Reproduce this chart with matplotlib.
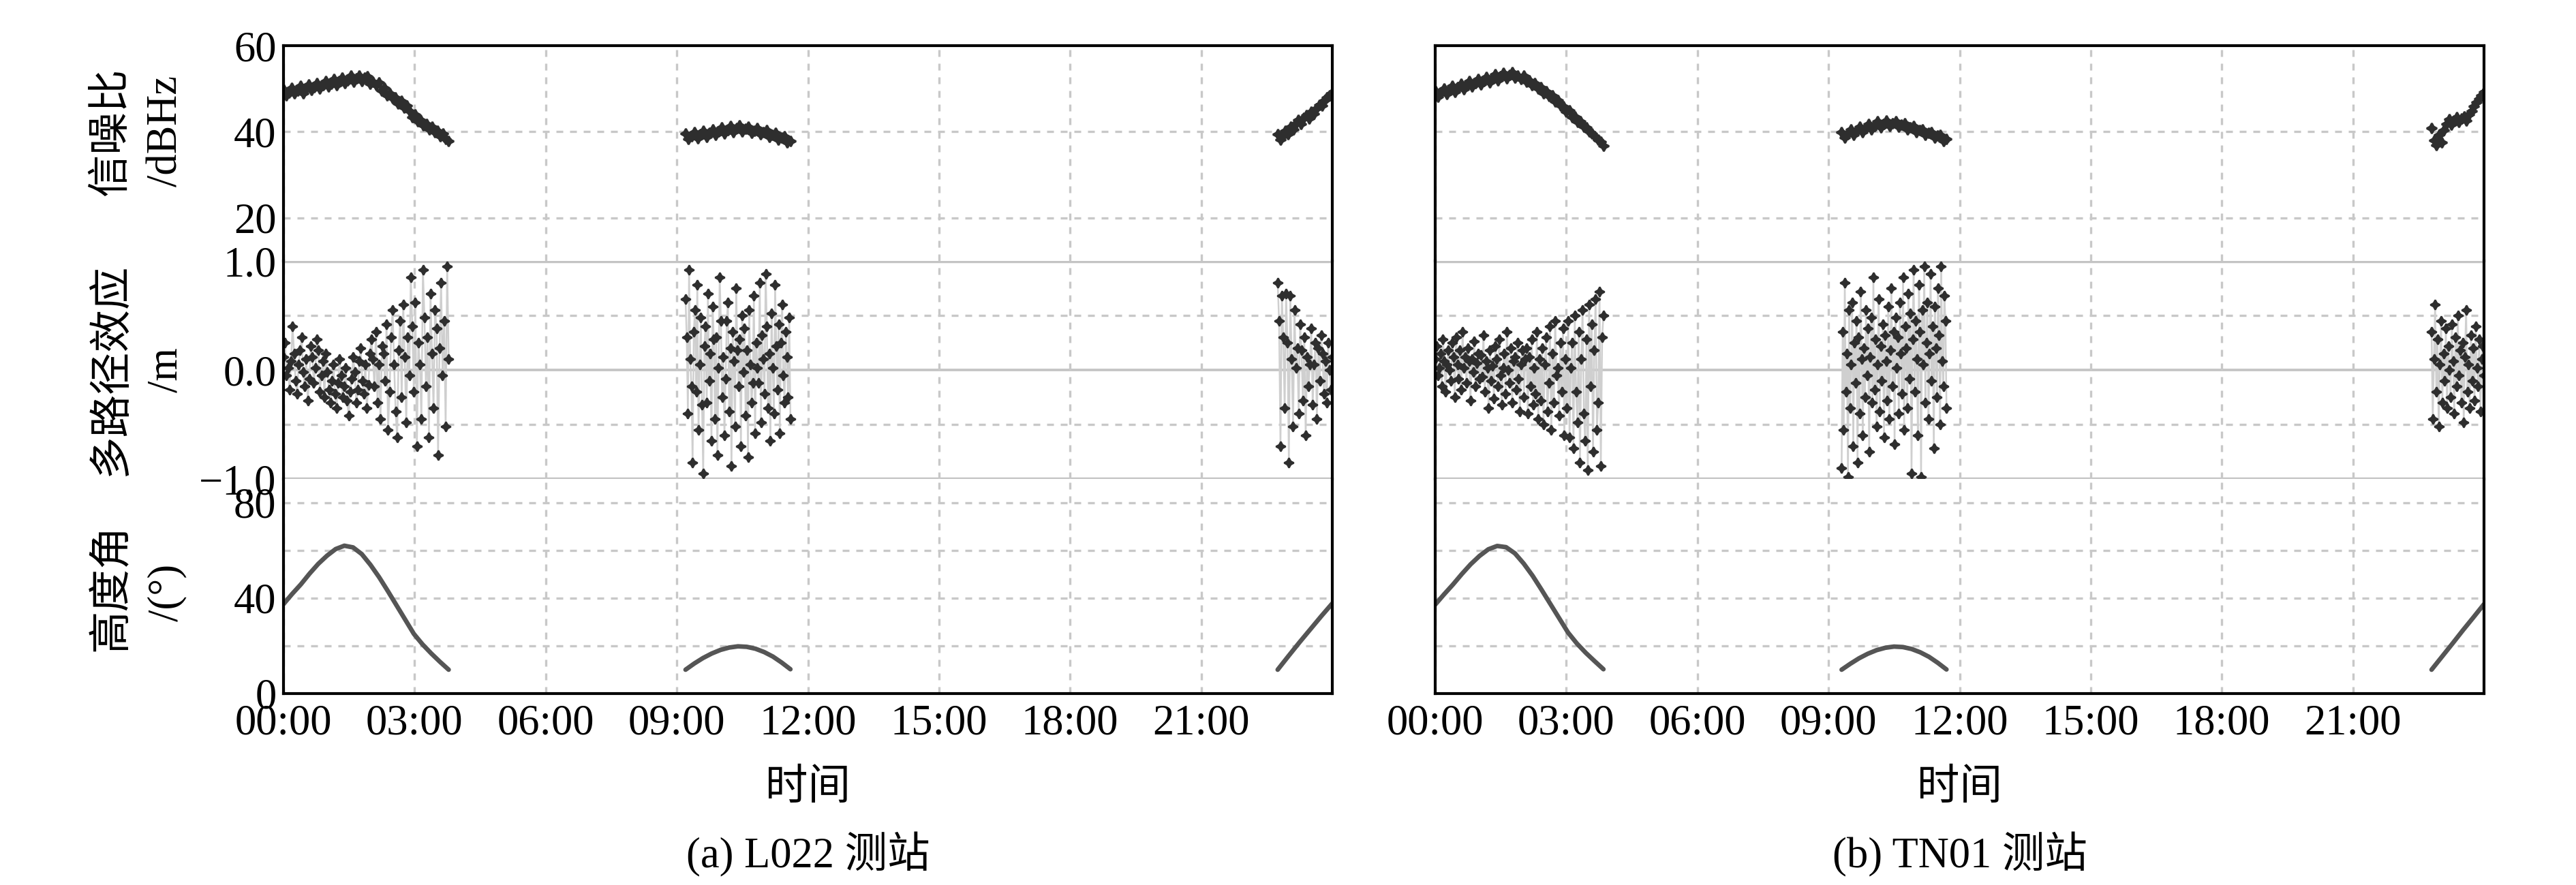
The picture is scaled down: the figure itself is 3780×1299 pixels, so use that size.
import matplotlib
matplotlib.use('Agg')
import matplotlib.pyplot as plt
import numpy as np

plt.rcParams['font.family'] = ['Liberation Serif', 'Noto Sans CJK SC']
plt.rcParams['axes.unicode_minus'] = True

# ---------------- data ----------------
hour_ticks = [0, 3, 6, 9, 12, 15, 18, 21]
hour_labels = ['00:00', '03:00', '06:00', '09:00', '12:00', '15:00', '18:00', '21:00']

snr_ticks = [20, 40, 60]
snr_ticklabels = ['20', '40', '60']
mp_ticks = [-1.0, 0.0, 1.0]
mp_ticklabels = ['\u22121.0', '0.0', '1.0']
elev_ticks = [0, 40, 80]
elev_ticklabels = ['0', '40', '80']

snr_grid = [20, 40]
mp_grid = [-0.5, 0.5]
mp_solid = [-1.0, 0.0, 1.0]
elev_grid = [20, 40, 60, 80]

# visibility windows (h) per station: (start, end)
l022_windows = [(0.0, 3.78), (9.2, 11.6), (22.75, 24.0)]
tn01_windows = [(0.0, 3.85), (9.3, 11.7), (22.8, 24.0)]

# L022 signal-to-noise ratio (dBHz)
l022_snr_1 = [49.8, 48.4, 49.1, 50.2, 48.9, 49.6, 50.6, 49.0, 50.1, 51.0, 49.7, 50.4, 51.3, 50.0, 50.9,
              51.8, 50.5, 51.2, 52.3, 50.9, 51.7, 52.6, 51.3, 52.0, 53.0, 51.6, 52.4, 53.1, 51.8, 52.5,
              52.9, 51.2, 51.6, 50.8, 51.4, 49.6, 50.2, 48.5, 48.9, 47.8, 48.0, 46.6, 47.2, 45.6, 46.0,
              44.8, 43.4, 44.0, 42.4, 42.8, 41.5, 41.8, 40.6, 41.1, 39.9, 40.3, 39.0, 39.6, 38.4, 37.8]
l022_snr_2 = [39.6, 38.3, 38.9, 39.9, 38.5, 39.4, 40.2, 38.8, 39.7, 40.5, 39.2, 40.0,
              41.0, 39.6, 40.4, 41.3, 39.9, 40.8, 41.5, 40.1, 40.7, 41.2, 39.8, 40.3,
              40.9, 39.4, 39.9, 40.4, 38.8, 39.3, 39.7, 38.2, 38.6, 38.9, 37.5, 37.9]
l022_snr_3 = [39.4, 38.2, 39.0, 40.3, 39.5, 41.1, 40.6, 41.9, 42.7, 41.8, 43.2,
              43.9, 43.1, 44.6, 44.2, 45.5, 46.2, 46.0, 47.3, 47.9, 48.5, 49.1]

# L022 multipath (m)
l022_mp_1 = [0.12, 0.25, -0.05, 0.02, -0.18, 0.08, 0.40, 0.15, -0.10, -0.22, 0.05, 0.18, 0.30, -0.02, -0.15,
             0.10, -0.28, -0.08, 0.22, 0.12, -0.12, 0.02, 0.28, 0.18, -0.20, -0.05, 0.08, -0.25, 0.15,
             -0.02, -0.18, -0.30, -0.10, 0.05, -0.22, -0.35, -0.12, 0.10, -0.05, -0.25, -0.15, 0.02, -0.28,
             -0.42, -0.20, -0.08, 0.12, -0.02, -0.30, -0.18, 0.08, 0.20, -0.10, -0.22, 0.05, -0.35, -0.14, 0.15,
             0.28, 0.10, -0.15, 0.35, -0.30, 0.05, -0.45, 0.22, 0.15, -0.10, 0.42, -0.55, -0.20, 0.30,
             0.55, 0.05, -0.38, -0.62, 0.18, 0.45, -0.25, 0.60, 0.12, -0.48, 0.30, -0.05,
             0.85, 0.40, -0.20, 0.62, -0.70, 0.25, 0.05, -0.45, 0.92, 0.48, -0.15, 0.30, -0.62, 0.70,
             0.15, -0.35, 0.55, 0.38, -0.78, 0.20, 0.80, -0.05, 0.45, -0.52, 0.95, 0.10]
l022_mp_2 = [0.65, 0.30, -0.40, 0.92, 0.10, -0.15, -0.85, 0.35, 0.55, -0.20,
             0.78, -0.55, 0.05, 0.48, -0.32, -0.95, 0.22, 0.40, -0.30, 0.70,
             -0.10, 0.15, -0.65, 0.58, 0.28, -0.45, 0.30, -0.78, 0.02, 0.85,
             0.45, -0.25, 0.12, -0.60, -0.08, 0.45, 0.62, -0.38, 0.20, -0.88,
             0.35, 0.08, -0.52, 0.75, 0.18, -0.15, 0.28, -0.70, 0.50, -0.02,
             0.38, -0.42, 0.18, -0.80, 0.55, 0.05, -0.30, -0.12, 0.68, -0.58,
             0.25, 0.02, -0.12, 0.80, -0.48, 0.32, 0.10, -0.22, 0.88, 0.40,
             -0.35, 0.15, -0.65, 0.52, 0.02, -0.40, 0.78, 0.22, -0.18, 0.42,
             -0.58, 0.25, 0.60, -0.05, -0.30, 0.35, 0.12, -0.25, 0.48, -0.45]
l022_mp_3 = [0.80, 0.45, -0.70, 0.68, 0.30, -0.35, 0.70, 0.25, -0.85, 0.68,
             0.10, -0.52, 0.55, 0.02, 0.20, -0.40, 0.42, 0.18, -0.28, 0.30,
             -0.60, 0.12, -0.15, 0.05, 0.38, -0.32, 0.05, 0.25, -0.45, 0.20,
             -0.10, 0.32, 0.15, -0.22, 0.08, -0.30, 0.25, 0.00, -0.18, 0.12]

# L022 elevation (deg)
l022_elev_1 = [37.5, 41.8, 45.8, 50.3, 54.4, 57.8, 60.6, 62.0, 61.3, 58.5,
               54.0, 48.8, 43.0, 37.0, 31.0, 25.0, 20.6, 16.8, 13.3, 10.0]
l022_elev_2 = [10.0, 12.6, 14.9, 16.8, 18.3, 19.3, 19.8, 19.6, 18.8, 17.4,
               15.5, 13.0, 10.2]
l022_elev_3 = [10.0, 15.8, 21.5, 27.0, 32.5, 37.8]

# TN01 signal-to-noise ratio (dBHz)
tn01_snr_1 = [49.5, 48.2, 49.0, 50.1, 48.8, 49.7, 50.6, 49.3, 50.4, 51.2, 49.9, 50.8, 51.7, 50.5, 51.3,
              52.3, 51.0, 51.8, 52.8, 51.5, 52.4, 53.4, 52.0, 52.9, 53.7, 52.4, 53.2, 53.9, 52.6, 53.0,
              52.2, 53.0, 51.6, 52.0, 50.9, 51.3, 50.0, 50.4, 49.0, 49.4, 48.3, 48.4, 47.1, 47.4, 46.0,
              45.9, 44.6, 44.9, 43.4, 43.6, 42.3, 42.5, 41.2, 41.0, 40.0, 39.6, 38.9, 38.2, 37.7, 36.8]
tn01_snr_2 = [39.9, 38.7, 39.5, 40.6, 39.3, 40.2, 41.2, 39.9, 40.8, 41.8, 40.6, 41.4, 42.4, 41.0, 41.8,
              42.6, 41.3, 42.0, 42.5, 41.1, 41.6, 41.9, 40.6, 41.0, 41.3, 39.9, 40.4, 40.6, 39.3, 39.8,
              39.9, 38.6, 39.1, 39.2, 37.9, 38.3]
tn01_snr_3 = [40.8, 38.0, 36.9, 39.2, 37.6, 40.4, 41.8, 42.9, 41.7, 42.6, 43.4,
              42.2, 43.0, 43.5, 42.6, 44.0, 44.8, 45.9, 46.8, 47.7, 48.5, 49.3]

# TN01 multipath (m)
tn01_mp_1 = [0.10, 0.22, -0.05, 0.02, 0.15, -0.15, 0.28, 0.08, -0.20, 0.05, 0.18, 0.00, -0.10, 0.25, 0.12,
             -0.25, 0.30, 0.05, -0.08, 0.18, -0.18, 0.35, 0.02, 0.12, -0.12, 0.20, 0.08, -0.28, 0.10, -0.02,
             0.26, -0.15, 0.06, 0.15, -0.08,
             0.14, -0.06, 0.32, -0.20, 0.08, 0.02, -0.35, 0.18, -0.10, 0.04, -0.26, 0.22, 0.10, -0.15, 0.28,
             -0.05, -0.32, 0.02, 0.15, -0.22, 0.35, 0.00, -0.12, 0.20, -0.30, 0.08, 0.12, -0.18, 0.25, -0.08,
             -0.38, 0.05, 0.18, -0.25, 0.10,
             0.20, -0.40, 0.12, -0.15, 0.28, -0.32, 0.02, -0.22, 0.35, -0.45, 0.10, -0.28, 0.20, -0.50,
             0.05, 0.30, -0.38, -0.12, 0.40, -0.55, 0.15, -0.30, 0.45, -0.05, 0.02, -0.42, 0.25, -0.20,
             0.38, -0.60, 0.10, -0.35,
             0.45, -0.62, 0.02, 0.25, -0.72, 0.50, -0.20, -0.48, 0.35, -0.85, 0.10, 0.55, -0.40, -0.65,
             0.28, -0.92, 0.60, -0.15, 0.42, -0.75, 0.18, 0.65, -0.55, -0.30, 0.72, -0.88, 0.30, 0.50]
tn01_mp_2 = [-0.90, 0.35, -0.55, 0.80, -0.20, 0.15, -0.98, 0.55, -0.35, 0.05,
             0.62, -0.70, 0.25, -0.12, 0.45, -0.85, 0.30, -0.40, 0.72, 0.10,
             -0.60, 0.20, -0.25, 0.55, -0.05, 0.38, -0.75, 0.12, 0.48, -0.30,
             0.85, -0.18, 0.28, -0.52, 0.05, 0.65, -0.38, 0.22, -0.10, 0.42,
             -0.62, 0.32, 0.08, -0.28, 0.58, -0.45, 0.18, 0.75, -0.15, 0.35,
             -0.68, 0.48, 0.02, 0.30, -0.40, 0.62, 0.15, -0.22, 0.85, -0.55,
             0.40, 0.20, -0.35, 0.70, -0.08, 0.52, -0.95, 0.28, 0.92, -0.20,
             0.45, 0.10, -0.60, 0.78, 0.35, -0.98, 0.55, 0.05, 0.95, -0.30,
             0.25, 0.62, -0.45, 0.15, 0.88, -0.10, 0.40, -0.72, 0.58, 0.20,
             -0.25, 0.75, 0.32, -0.50, 0.95, 0.08, -0.15, 0.68, 0.45, -0.35]
tn01_mp_3 = [0.35, -0.45, 0.10, 0.60, -0.20, 0.28, -0.52, 0.05, 0.45, -0.30,
             0.15, -0.10, 0.38, -0.35, 0.22, 0.00, -0.25, 0.42, 0.08, -0.40,
             0.30, -0.15, 0.50, -0.05, 0.18, -0.30, 0.25, -0.48, 0.12, 0.55,
             -0.20, 0.05, -0.35, 0.32, -0.10, 0.20, -0.28, 0.40, 0.02, -0.15,
             0.28, -0.38, 0.10, 0.22, -0.05]

# TN01 elevation (deg)
tn01_elev_1 = [37.3, 41.6, 45.7, 50.1, 54.2, 57.7, 60.5, 61.9, 61.4, 58.8,
               54.5, 49.4, 43.6, 37.6, 31.6, 25.6, 21.0, 17.1, 13.6, 10.2]
tn01_elev_2 = [10.0, 12.5, 14.8, 16.7, 18.2, 19.2, 19.7, 19.5, 18.7, 17.3,
               15.4, 12.9, 10.1]
tn01_elev_3 = [10.0, 15.5, 21.0, 26.6, 32.0, 37.5]

stations = [
    dict(windows=l022_windows, snr=[l022_snr_1, l022_snr_2, l022_snr_3],
         mp=[l022_mp_1, l022_mp_2, l022_mp_3],
         elev=[l022_elev_1, l022_elev_2, l022_elev_3], caption='(a) L022 测站'),
    dict(windows=tn01_windows, snr=[tn01_snr_1, tn01_snr_2, tn01_snr_3],
         mp=[tn01_mp_1, tn01_mp_2, tn01_mp_3],
         elev=[tn01_elev_1, tn01_elev_2, tn01_elev_3], caption='(b) TN01 测站'),
]

# ---------------- layout (pixel boxes) ----------------
W, H = 3780, 1299
fig = plt.figure(figsize=(W / 300, H / 300), dpi=300)
fig.patch.set_facecolor('white')

panel_x = [(416, 1955), (2106, 3645)]
rows = [(67, 383), (383, 703), (703, 1018)]   # snr, multipath, elevation


def add_box(x0, x1, ytop, ybot):
    return fig.add_axes([x0 / W, 1 - ybot / H, (x1 - x0) / W, (ybot - ytop) / H])


FS = 15
grid_kw = dict(color='#c8c8c8', lw=0.8, dashes=(3, 3))
star = (4, 1, 0)
dark = '#2e2e2e'

for p, st in enumerate(stations):
    x0, x1 = panel_x[p]
    axs = [add_box(x0, x1, r[0], r[1]) for r in rows]

    for i, ax in enumerate(axs):
        ax.set_xlim(0, 24)
        ax.set_xticks(hour_ticks)
        ax.grid(axis='x', **grid_kw)
        ax.set_axisbelow(True)
        ax.tick_params(length=0, labelsize=FS, pad=2.5)
        for s in ax.spines.values():
            s.set_linewidth(1.0)
            s.set_color('black')
        if i != 2:
            ax.tick_params(labelbottom=False)
        if i != 0:
            ax.spines['top'].set_visible(False)
        if i != 2:
            ax.spines['bottom'].set_visible(False)

    ax_snr, ax_mp, ax_el = axs

    # signal-to-noise ratio
    ax_snr.set_ylim(10, 60)
    ax_snr.set_yticks(snr_ticks)
    ax_snr.set_yticklabels(snr_ticklabels)
    for g in snr_grid:
        ax_snr.axhline(g, zorder=0, **grid_kw)
    for (t0, t1), vals in zip(st['windows'], st['snr']):
        t = np.linspace(t0, t1, len(vals))
        ax_snr.plot(t, vals, ls='none', marker=star, ms=3.6, color=dark,
                    mec=dark, mew=0.7)

    # multipath
    ax_mp.set_ylim(-1.0, 1.0)
    ax_mp.set_yticks(mp_ticks)
    ax_mp.set_yticklabels(mp_ticklabels)
    for g in mp_grid:
        ax_mp.axhline(g, zorder=0, **grid_kw)
    for g in mp_solid:
        ax_mp.axhline(g, color='#c4c4c4', lw=1.3 if g != 0 else 0.9, zorder=0.5)
    for (t0, t1), vals in zip(st['windows'], st['mp']):
        t = np.linspace(t0, t1, len(vals))
        ax_mp.plot(t, vals, color='#cfcfcf', lw=0.6, zorder=1)
        ax_mp.plot(t, vals, ls='none', marker=star, ms=3.4, color=dark,
                   mec=dark, mew=0.6, zorder=2)

    # elevation
    ax_el.set_ylim(0, 90)
    ax_el.set_yticks(elev_ticks)
    ax_el.set_yticklabels(elev_ticklabels)
    for g in elev_grid:
        ax_el.axhline(g, zorder=0, **grid_kw)
    for (t0, t1), vals in zip(st['windows'], st['elev']):
        t = np.linspace(t0, t1, len(vals))
        ax_el.plot(t, vals, color='#555555', lw=1.6, solid_capstyle='round')
    ax_el.set_xticklabels(hour_labels)
    ax_el.tick_params(axis='x', pad=3.6)

    if p == 1:
        for ax in axs:
            ax.tick_params(labelleft=False)

    xc = (x0 + x1) / 2 / W
    fig.text(xc, 1 - 1158 / H, '时间', ha='center', va='center', fontsize=FS)
    fig.text(xc, 1 - 1254 / H, st['caption'], ha='center', va='center', fontsize=FS)

# y labels (left panel only)
ylabels = [('信噪比', '/dBHz', 193, 193), ('多路径效应', '/m', 543, 543),
           ('高度角', '/(°)', 862, 870)]
for cjk, unit, yc1, yc2 in ylabels:
    fig.text(165 / W, 1 - yc1 / H, cjk, rotation=90, ha='center', va='center', fontsize=FS)
    fig.text(245 / W, 1 - yc2 / H, unit, rotation=90, ha='center', va='center', fontsize=FS)

fig.savefig('out.png', dpi=300, facecolor='white')
